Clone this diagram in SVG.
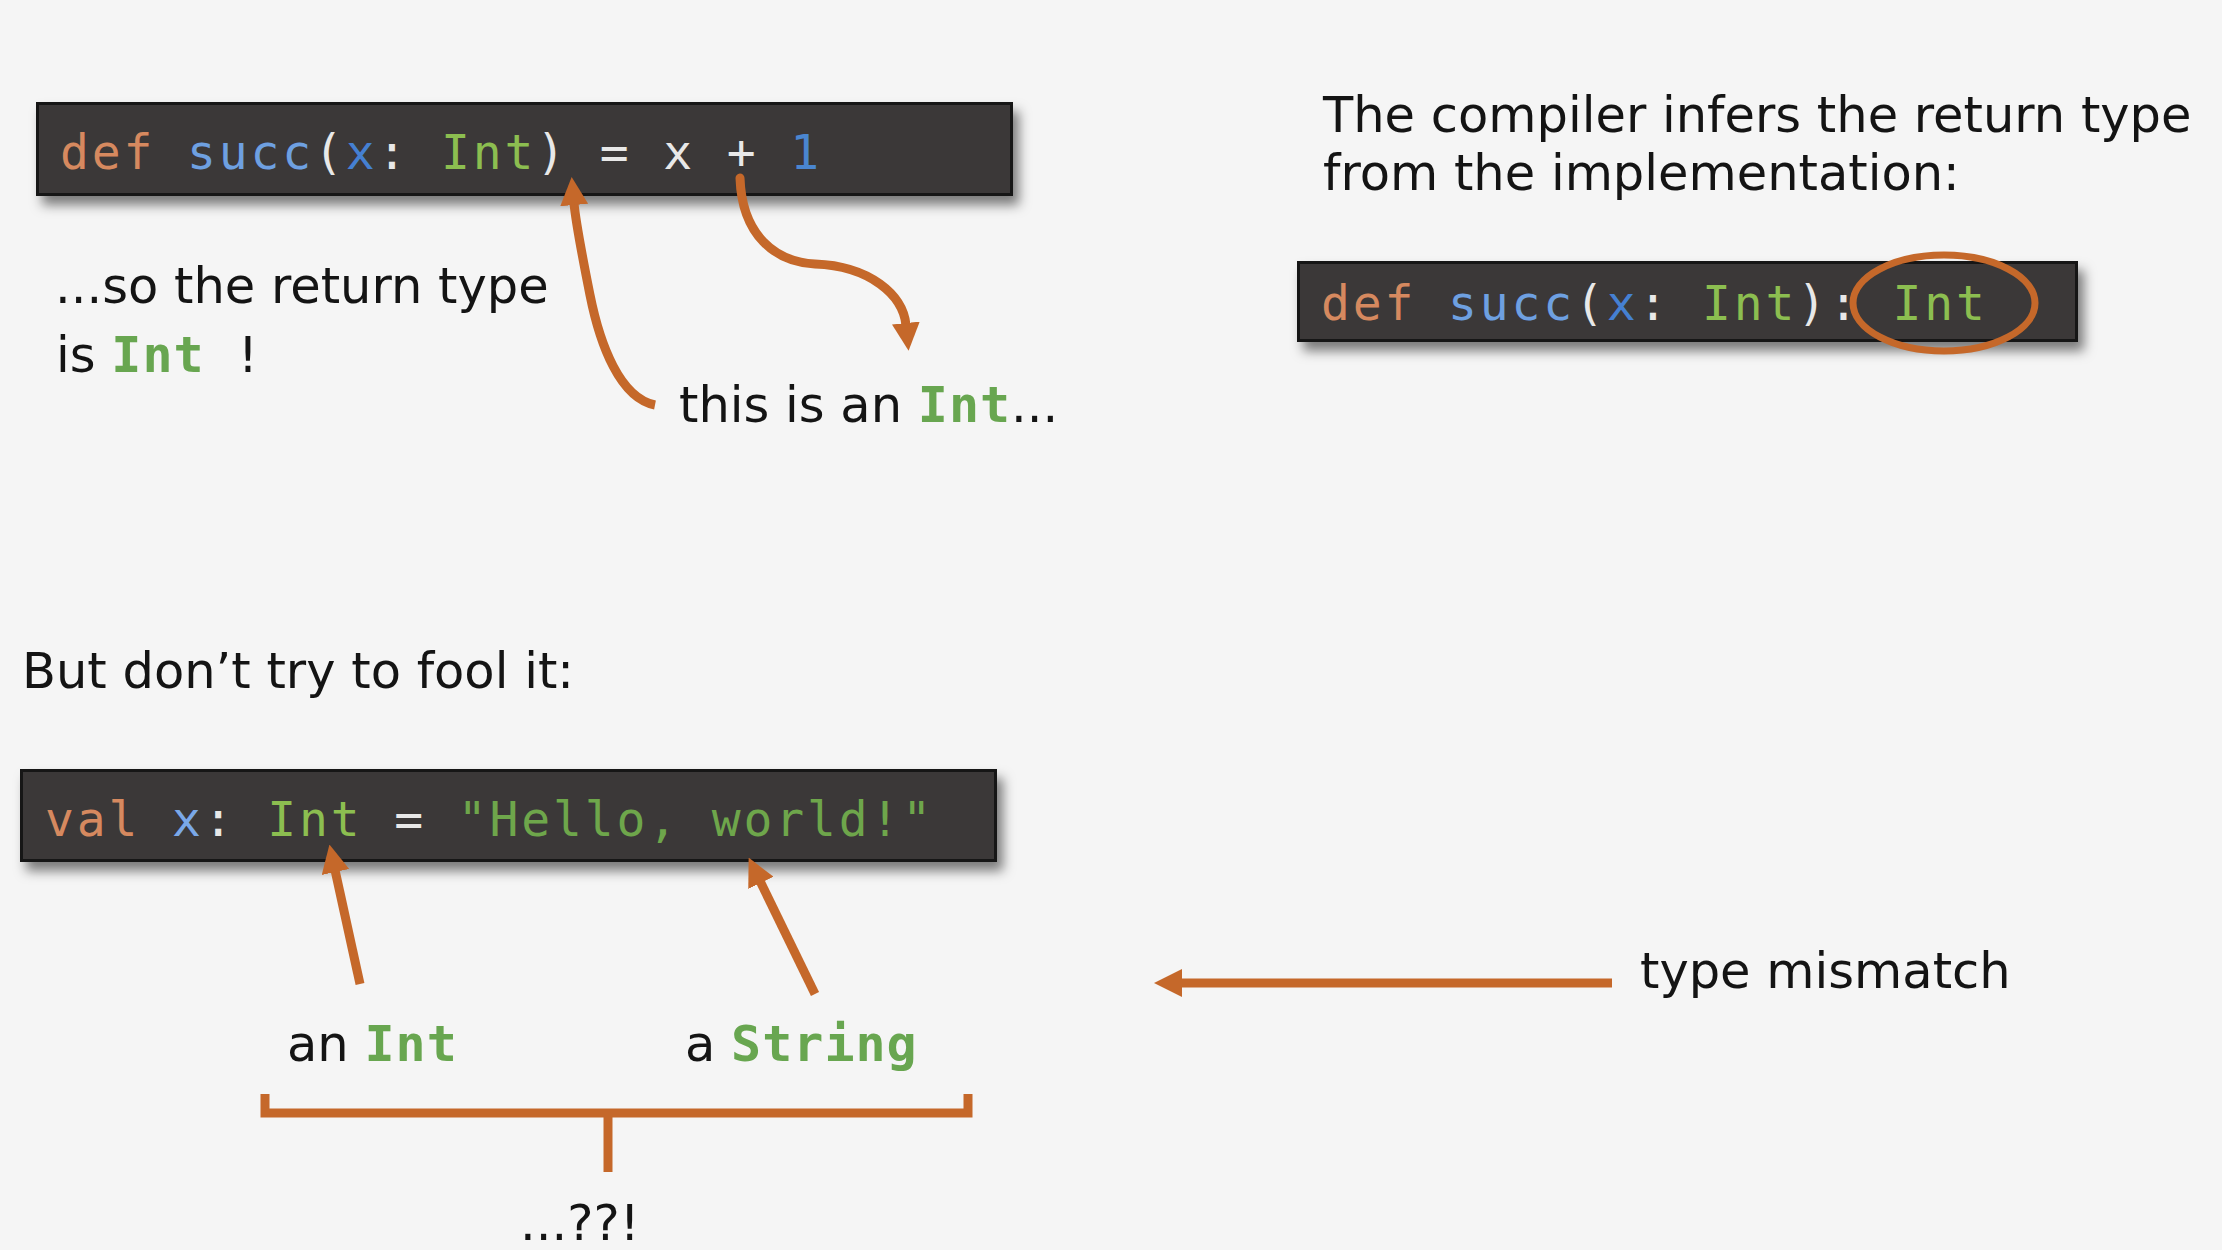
<svg xmlns="http://www.w3.org/2000/svg" width="2222" height="1250" viewBox="0 0 2222 1250">
<style>
.body{font-family:"DejaVu Sans","Liberation Sans",sans-serif;font-size:49.5px;fill:#141414}
.code{font-family:"DejaVu Sans Mono","Liberation Mono",monospace;font-size:48px;letter-spacing:2.85px;fill:#e8e8e8}
.bm{font-family:"DejaVu Sans Mono","Liberation Mono",monospace;font-weight:bold;font-size:50px;letter-spacing:1px;fill:#68a650}
.kw{fill:#d6895f}.fn{fill:#6ea0e1}.pa{fill:#4580d2}.pa2{fill:#7aa8e8}.ty{fill:#8cbe50}.num{fill:#4a86d0}.str{fill:#6ea64b}.pu{fill:#e8e8e8}
.box{fill:#3a3939;stroke:#121212;stroke-width:3}
.conn{fill:none;stroke:#c5682a;stroke-width:9}
</style>
<defs>
<filter id="sh" x="-5%" y="-30%" width="112%" height="170%">
<feDropShadow dx="6" dy="9" stdDeviation="6" flood-color="#000" flood-opacity="0.5"/>
</filter>
<marker id="ah" viewBox="0 0 28 28" markerWidth="28" markerHeight="28" refX="2" refY="14" orient="auto" markerUnits="userSpaceOnUse">
<path d="M0,0 L28,14 L0,28 z" fill="#c5682a"/>
</marker>
</defs>
<rect x="0" y="0" width="2222" height="1250" fill="#f5f5f5"/>

<g id="code1">
<rect class="box" x="37.5" y="103.5" width="974" height="91" filter="url(#sh)"/>
<text class="code" x="60" y="169" xml:space="preserve"><tspan class="kw">def</tspan> <tspan class="fn">succ</tspan><tspan class="pu">(</tspan><tspan class="pa">x</tspan><tspan class="pu">: </tspan><tspan class="ty">Int</tspan><tspan class="pu">) = x + </tspan><tspan class="num">1</tspan></text>
</g>

<g id="note-return">
<text class="body" x="55" y="303">...so the return type</text>
<text class="body" x="56" y="372">is <tspan class="bm">Int</tspan></text>
<text class="body" x="238" y="372">!</text>
</g>

<g id="note-int">
<text class="body" x="679" y="422">this is an <tspan class="bm">Int</tspan>...</text>
</g>

<g id="note-compiler">
<text class="body" x="1323" y="132">The compiler infers the return type</text>
<text class="body" x="1323" y="190">from the implementation:</text>
</g>

<g id="code2">
<rect class="box" x="1298.5" y="262.5" width="778" height="78" filter="url(#sh)"/>
<text class="code" x="1321" y="320" xml:space="preserve"><tspan class="kw">def</tspan> <tspan class="fn">succ</tspan><tspan class="pu">(</tspan><tspan class="pa">x</tspan><tspan class="pu">: </tspan><tspan class="ty">Int</tspan><tspan class="pu">): </tspan><tspan class="ty">Int</tspan></text>
</g>

<g id="note-fool">
<text class="body" x="22" y="688">But don’t try to fool it:</text>
</g>

<g id="code3">
<rect class="box" x="21.5" y="770.5" width="974" height="90" filter="url(#sh)"/>
<text class="code" x="45" y="836" xml:space="preserve"><tspan class="kw">val</tspan> <tspan class="pa2">x</tspan><tspan class="pu">: </tspan><tspan class="ty">Int</tspan><tspan class="pu"> = </tspan><tspan class="str">"Hello, world!"</tspan></text>
</g>

<g id="label-anint">
<text class="body" x="287" y="1061">an <tspan class="bm">Int</tspan></text>
</g>
<g id="label-astring">
<text class="body" x="685" y="1061">a <tspan class="bm">String</tspan></text>
</g>
<g id="label-what">
<text class="body" x="520" y="1240">...??!</text>
</g>
<g id="label-mismatch">
<text class="body" x="1640" y="988">type mismatch</text>
</g>

<g id="connectors">
<ellipse cx="1944" cy="303" rx="91" ry="48" fill="none" stroke="#c5682a" stroke-width="7"/>
<path class="conn" d="M655,405 C620,398 600,345 590,295 C582,255 576,225 574,203" marker-end="url(#ah)"/>
<path class="conn" stroke-linecap="round" d="M740,178 C742,235 775,262 815,264 C870,266 903,295 906,325" marker-end="url(#ah)"/>
<path class="conn" d="M360,984 L335,870" marker-end="url(#ah)"/>
<path class="conn" d="M815,994 L760,881" marker-end="url(#ah)"/>
<path class="conn" d="M1612,983 L1180,983" marker-end="url(#ah)"/>
<path class="conn" d="M265,1094 L265,1113 L968,1113 L968,1094"/>
<path class="conn" d="M608,1113 L608,1172"/>
</g>
</svg>
